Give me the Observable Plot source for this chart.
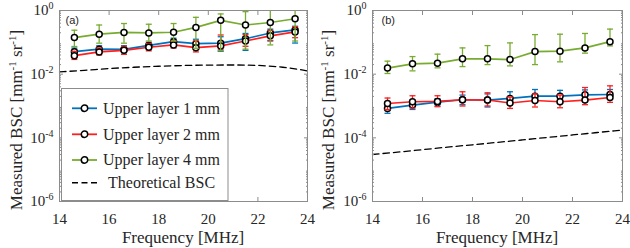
<!DOCTYPE html>
<html><head><meta charset="utf-8">
<script src="https://cdn.jsdelivr.net/npm/d3@7"></script>
<script src="https://cdn.jsdelivr.net/npm/@observablehq/plot@0.6"></script>
<style>
html,body{margin:0;padding:0;background:#fff;}
#wrap{position:relative;width:630px;height:248px;overflow:hidden;}
.panel{position:absolute;top:0;}
</style></head><body><div id="wrap"></div>
<script>
// ---------- data ----------
const freq = [14.6, 15.6, 16.6, 17.6, 18.6, 19.5, 20.5, 21.5, 22.5, 23.5];
const seriesNames = ["Upper layer 1 mm", "Upper layer 2 mm", "Upper layer 4 mm"];
const theoName = "Theoretical BSC";
const seriesColors = ["#0072BD", "#FF1F1F", "#77AC30"];

// panel (a)
const a1 = [0.051, 0.061, 0.060, 0.080, 0.105, 0.091, 0.094, 0.130, 0.197, 0.245];
const a1Lo = [0.040, 0.048, 0.047, 0.063, 0.085, 0.065, 0.052, 0.056, 0.110, 0.095];
const a1Hi = [0.066, 0.078, 0.078, 0.100, 0.135, 0.125, 0.150, 0.190, 0.260, 0.320];
const a2 = [0.038, 0.050, 0.056, 0.070, 0.083, 0.068, 0.077, 0.110, 0.160, 0.212];
const a2Lo = [0.029, 0.040, 0.042, 0.054, 0.066, 0.050, 0.058, 0.075, 0.115, 0.140];
const a2Hi = [0.052, 0.066, 0.075, 0.092, 0.110, 0.112, 0.170, 0.175, 0.240, 0.310];
const a4 = [0.141, 0.180, 0.205, 0.197, 0.207, 0.295, 0.490, 0.350, 0.420, 0.550];
const a4Lo = [0.074, 0.094, 0.094, 0.110, 0.110, 0.065, 0.054, 0.061, 0.083, 0.110];
const a4Hi = [0.240, 0.350, 0.390, 0.370, 0.390, 0.610, 0.780, 0.920, 1.05, 1.20];

// panel (b)
const b1 = [0.00084, 0.00107, 0.00132, 0.00157, 0.00154, 0.00173, 0.00204, 0.00204, 0.00225, 0.00230];
const b1Lo = [0.00059, 0.00078, 0.00100, 0.00110, 0.00093, 0.00120, 0.00150, 0.00150, 0.00160, 0.00160];
const b1Hi = [0.00115, 0.00145, 0.00170, 0.00220, 0.00240, 0.00280, 0.00330, 0.00310, 0.00320, 0.00330];
const b2 = [0.00120, 0.00136, 0.00139, 0.00157, 0.00154, 0.00124, 0.00149, 0.00136, 0.00154, 0.00185];
const b2Lo = [0.00077, 0.00086, 0.00095, 0.00100, 0.00100, 0.00084, 0.00093, 0.00088, 0.00110, 0.00130];
const b2Hi = [0.00178, 0.00210, 0.00210, 0.00280, 0.00260, 0.00190, 0.00240, 0.00220, 0.00380, 0.00430];
const b4 = [0.0155, 0.0211, 0.0222, 0.0303, 0.0303, 0.0288, 0.0512, 0.0527, 0.0668, 0.105];
const b4Lo = [0.0105, 0.0127, 0.0158, 0.0173, 0.0200, 0.0182, 0.0200, 0.0244, 0.0457, 0.0773];
const b4Hi = [0.0256, 0.0357, 0.0425, 0.0668, 0.0790, 0.0960, 0.175, 0.180, 0.190, 0.260];

// theoretical curves
const theoFreq = [14, 15, 16, 17, 18, 19, 20, 21, 22, 23, 24];
const theoA = [0.0118, 0.0132, 0.0150, 0.0165, 0.0177, 0.0187, 0.0193, 0.0194, 0.0188, 0.0165, 0.0127];
const theoB = [3.0e-5, 3.55e-5, 4.25e-5, 5.1e-5, 6.05e-5, 7.2e-5, 8.6e-5, 1.03e-4, 1.23e-4, 1.47e-4, 1.76e-4];

// axes
const xTicks = [14, 16, 18, 20, 22, 24];
const yTicks = [1e-6, 1e-4, 1e-2, 1];
const yMinor = [];
for (let e = -6; e < 0; e++) for (let m = 2; m <= 9; m++) yMinor.push(m * Math.pow(10, e));
const xLabel = "Frequency [MHz]";
const yLabel = "Measured BSC [mm-1 sr-1]";
const panelTags = ["(a)", "(b)"];

// ---------- drawing ----------
const TEXT = "#262626", AXIS = "#8c8c8c";
const capSymbol = {draw(ctx) { ctx.moveTo(-3, 0); ctx.lineTo(3, 0); }};
const rows = (y, lo, hi) => freq.map((f, i) => ({f, y: y[i], lo: lo[i], hi: hi[i]}));
const theoRows = (v) => theoFreq.map((f, i) => ({f, v: v[i]}));

function seriesMarks(data, color) {
  return [
    Plot.ruleX(data, {x: "f", y1: "lo", y2: "hi", stroke: color, strokeWidth: 1.3, clip: true}),
    Plot.dot(data, {x: "f", y: "lo", symbol: capSymbol, stroke: color, fill: "none", strokeWidth: 1.3, clip: true}),
    Plot.dot(data, {x: "f", y: "hi", symbol: capSymbol, stroke: color, fill: "none", strokeWidth: 1.3, clip: true}),
    Plot.line(data, {x: "f", y: "y", stroke: color, strokeWidth: 1.7}),
    Plot.dot(data, {x: "f", y: "y", r: 3, stroke: "#000", fill: "#fff", strokeWidth: 1.5})
  ];
}

function makePanel(seriesList, theo, tag, marginLeft, tagDx) {
  const marks = [
    Plot.line(theoRows(theo), {x: "f", y: "v", stroke: "#000", strokeWidth: 1.3, strokeDasharray: "6.5,4", curve: "monotone-x"})
  ];
  seriesList.forEach((s, i) => marks.push(...seriesMarks(s, seriesColors[i])));
  marks.push(
    Plot.frame({stroke: AXIS}),
    Plot.axisX({anchor: "bottom", ticks: xTicks, tickSize: 0, tickPadding: 11.5, tickFormat: d => String(d), label: xLabel, fontSize: 15}),
    Plot.axisX({anchor: "bottom", ticks: xTicks, tickSize: -4, tickFormat: () => "", label: null, color: AXIS}),
    Plot.axisX({anchor: "top", ticks: xTicks, tickSize: -4, tickFormat: () => "", label: null, color: AXIS}),
    Plot.axisY({anchor: "left", ticks: yTicks, tickSize: 0, tickPadding: 6, tickFormat: d => "10^" + Math.round(Math.log10(d)), label: yLabel, fontSize: 15}),
    Plot.axisY({anchor: "left", ticks: yTicks, tickSize: -4, tickFormat: () => "", label: null, color: AXIS}),
    Plot.axisY({anchor: "right", ticks: yTicks, tickSize: -4, tickFormat: () => "", label: null, color: AXIS}),
    Plot.axisY({anchor: "left", ticks: yMinor, tickSize: -2, tickFormat: () => "", label: null, color: AXIS}),
    Plot.axisY({anchor: "right", ticks: yMinor, tickSize: -2, tickFormat: () => "", label: null, color: AXIS}),
    Plot.text([tag], {text: d => d, frameAnchor: "top-left", dx: tagDx, dy: 6, lineAnchor: "top", textAnchor: "start",
      fontFamily: "Liberation Sans, Arial, sans-serif", fontSize: 11, fill: TEXT})
  );
  return Plot.plot({
    width: 315, height: 248,
    marginLeft, marginRight: 8, marginTop: 10, marginBottom: 47,
    x: {domain: [14, 24]},
    y: {type: "log", domain: [1e-6, 1]},
    style: {fontFamily: "Liberation Serif, Times New Roman, serif", fontSize: "15px", color: TEXT, background: "transparent", overflow: "visible"},
    marks
  });
}

function setRich(t, str, supSize, supShift) {
  t.textContent = "";
  const parts = str.split(/(-?\d+)(?=$|\s|\])/);
  // rich: split on exponent markers
  t.textContent = "";
  return parts;
}

function richLabel(t, pieces) {
  // pieces: [text, isSup]
  t.textContent = "";
  let shifted = false;
  for (const [s, sup] of pieces) {
    const ts = document.createElementNS("http://www.w3.org/2000/svg", "tspan");
    ts.textContent = s;
    if (sup && !shifted) { ts.setAttribute("dy", "-6"); ts.setAttribute("font-size", "11"); shifted = true; }
    else if (sup) { ts.setAttribute("font-size", "11"); }
    else if (!sup && shifted) { ts.setAttribute("dy", "6"); shifted = false; }
    t.appendChild(ts);
  }
}

function fixPanel(svg, frameLeft, frameRight, yLabelX) {
  // y tick labels: 10^k with superscript
  svg.querySelectorAll('g[aria-label="y-axis tick label"] text').forEach(t => {
    const s = t.textContent;
    if (!s) return;
    const [base, exp] = s.split("^");
    t.textContent = base;
    const ts = document.createElementNS("http://www.w3.org/2000/svg", "tspan");
    ts.textContent = exp;
    ts.setAttribute("dy", "-6");
    ts.setAttribute("font-size", "10");
    t.appendChild(ts);
  });
  // y axis label
  const yl = svg.querySelector('g[aria-label="y-axis label"]');
  if (yl) {
    yl.removeAttribute("transform");
    const t = yl.querySelector("text");
    ["x", "y", "dx", "dy"].forEach(a => t.removeAttribute(a));
    t.setAttribute("transform", `translate(${yLabelX},120) rotate(-90)`);
    t.setAttribute("text-anchor", "middle");
    t.setAttribute("font-size", "17");
    const pieces = yLabel.split(/(-\d+)/).filter(s => s !== "").map(s => [s, /^-\d+$/.test(s)]);
    richLabel(t, pieces);
  }
  const xl = svg.querySelector('g[aria-label="x-axis label"]');
  if (xl) {
    xl.removeAttribute("transform");
    const t = xl.querySelector("text");
    ["x", "y", "dx", "dy"].forEach(a => t.removeAttribute(a));
    t.setAttribute("transform", `translate(${(frameLeft + frameRight) / 2},242.5)`);
    t.setAttribute("text-anchor", "middle");
    t.setAttribute("font-size", "17");
    t.textContent = xLabel;
  }
}

const wrap = document.getElementById("wrap");
const pa = makePanel([rows(a1, a1Lo, a1Hi), rows(a2, a2Lo, a2Hi), rows(a4, a4Lo, a4Hi)], theoA, panelTags[0], 59, 6);
const pb = makePanel([rows(b1, b1Lo, b1Hi), rows(b2, b2Lo, b2Hi), rows(b4, b4Lo, b4Hi)], theoB, panelTags[1], 57, 9);
fixPanel(pa, 59, 307, 21.5);
fixPanel(pb, 57, 307, 18.5);
pa.classList.add("panel"); pa.style.left = "0px";
pb.classList.add("panel"); pb.style.left = "315px";
wrap.appendChild(pa);
wrap.appendChild(pb);

// legend inside panel (a)
const legendEntries = seriesNames.map((n, i) => ({name: n, color: seriesColors[i], dashed: false}))
  .concat([{name: theoName, color: "#000", dashed: true}]);
const legend = d3.create("svg").attr("width", 630).attr("height", 248)
  .style("position", "absolute").style("left", "0px").style("top", "0px")
  .style("font-family", "Liberation Serif, Times New Roman, serif").style("font-size", "16px");
legend.append("rect").attr("x", 61.5).attr("y", 88.5).attr("width", 166.5).attr("height", 112)
  .attr("fill", "#fff").attr("stroke", AXIS).attr("stroke-width", 1);
const rowY = [108.3, 134.3, 160, 182.7];
legendEntries.forEach((e, i) => {
  const g = legend.append("g").attr("transform", `translate(0,${rowY[i]})`);
  g.append("line").attr("x1", 72).attr("x2", 97).attr("y1", 0).attr("y2", 0)
    .attr("stroke", e.color).attr("stroke-width", e.dashed ? 1.5 : 1.8)
    .attr("stroke-dasharray", e.dashed ? "6,3.5" : null);
  if (!e.dashed) g.append("circle").attr("cx", 84.5).attr("cy", 0).attr("r", 3.2)
    .attr("fill", "#fff").attr("stroke", "#000").attr("stroke-width", 1.5);
  g.append("text").attr("x", e.dashed ? 108 : 103).attr("y", 5.3).attr("fill", TEXT).text(e.name);
});
wrap.appendChild(legend.node());
</script>
</body></html>
